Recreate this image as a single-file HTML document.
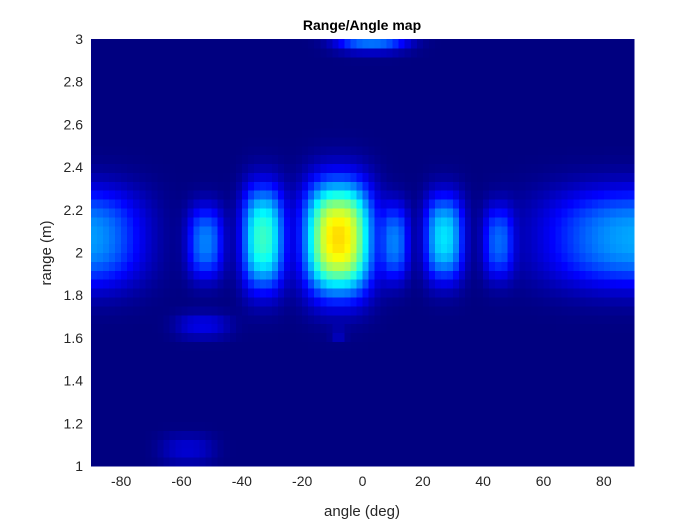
<!DOCTYPE html>
<html><head><meta charset="utf-8"><style>
body{margin:0;background:#fff;}
svg{font-family:"Liberation Sans",sans-serif;}
</style></head><body>
<svg id="c" width="700" height="525">
<g id="heat" shape-rendering="crispEdges"></g>
<g id="axes"></g>
<text x="362" y="30" text-anchor="middle" font-size="14" font-weight="bold" fill="#000">Range/Angle map</text>
<text x="362" y="516" text-anchor="middle" font-size="15" fill="#262626">angle (deg)</text>
<text transform="translate(51,253) rotate(-90)" text-anchor="middle" font-size="15" fill="#262626">range (m)</text>
</svg>
<script>
// blob data: angle center, range center, angle half-width, range half-width, amplitude
const blobAngle = [-93, 94, -52, -33, -8, 11, 27, 45, 3, -53, -58, -8];
const blobRange = [2.07, 2.07, 2.05, 2.07, 2.07, 2.05, 2.07, 2.05, 3.02, 1.66, 1.08, 1.62];
const blobAW    = [20, 33, 6, 7, 11, 4.5, 6.5, 5, 12, 9, 9, 2.5];
const blobRW    = [0.23, 0.23, 0.17, 0.24, 0.26, 0.18, 0.2, 0.17, 0.07, 0.06, 0.07, 0.025];
const blobAmp   = [0.28, 0.29, 0.25, 0.43, 0.66, 0.24, 0.35, 0.21, 0.3, 0.1, 0.08, 0.07];
const xTicks = [-80,-60,-40,-20,0,20,40,60,80];
const yTicks = [1,1.2,1.4,1.6,1.8,2,2.2,2.4,2.6,2.8,3];
const L=91,R=634,T=39,B=466;
const xs=a=>L+(a+90)/180*(R-L);
const ys=r=>B-(r-1)/2*(B-T);
function jet(v){v=Math.max(0,Math.min(1,v));
 const c=x=>Math.max(0,Math.min(1,x));
 const r=c(1.5-Math.abs(4*v-3)),g=c(1.5-Math.abs(4*v-2)),b=c(1.5-Math.abs(4*v-1));
 return `rgb(${Math.round(r*255)},${Math.round(g*255)},${Math.round(b*255)})`;}
const ns="http://www.w3.org/2000/svg";
const heat=document.getElementById('heat');
const nA=90,nR=48,da=180/nA,dr=2/nR;
for(let i=0;i<nA;i++){for(let j=0;j<nR;j++){
 const a=-90+(i+0.5)*da,r=1+(j+0.5)*dr;let v=0;
 for(let k=0;k<blobAngle.length;k++){
  const u=Math.abs(a-blobAngle[k])/blobAW[k],w=Math.abs(r-blobRange[k])/blobRW[k];
  v+=blobAmp[k]*Math.exp(-(u**2.6)-(w**2.6));}
 const e=document.createElementNS(ns,'rect');
 
 
 const x0=xs(-90+i*da),x1=xs(-90+(i+1)*da),y0=ys(1+(j+1)*dr),y1=ys(1+j*dr);
 e.setAttribute('x',x0);e.setAttribute('y',y0);
 e.setAttribute('width',x1-x0+0.5);e.setAttribute('height',y1-y0+0.5);
 e.setAttribute('fill',jet(v));heat.appendChild(e);}}
const ax=document.getElementById('axes');
xTicks.forEach(t=>{const e=document.createElementNS(ns,'text');
 
 
 e.setAttribute('x',xs(t));e.setAttribute('y',B+20);e.setAttribute('text-anchor','middle');
 e.setAttribute('font-size','14');e.setAttribute('fill','#262626');e.textContent=t;ax.appendChild(e);});
yTicks.forEach(t=>{const e=document.createElementNS(ns,'text');
 
 
 e.setAttribute('x',L-8);e.setAttribute('y',ys(t)+5);e.setAttribute('text-anchor','end');
 e.setAttribute('font-size','14');e.setAttribute('fill','#262626');e.textContent=String(t);ax.appendChild(e);});
</script>
</body></html>
